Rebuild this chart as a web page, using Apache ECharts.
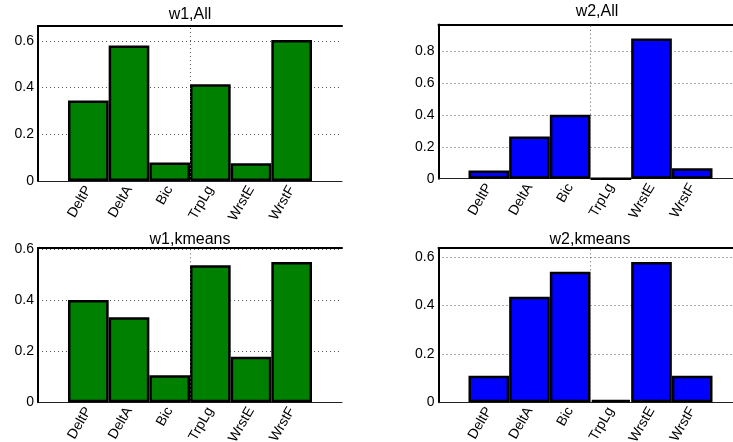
<!DOCTYPE html>
<html>
<head>
<meta charset="utf-8">
<script src="https://cdn.jsdelivr.net/npm/echarts@6/dist/echarts.min.js"></script>
<style>
html,body{margin:0;padding:0;background:#fff;}
#chart{width:733px;height:442px;}
</style>
</head>
<body>
<div id="chart"></div>
<script>
// ---- data ----
const categories = ['DeltP', 'DeltA', 'Bic', 'TrpLg', 'WrstE', 'WrstF'];
const w1All    = [0.345, 0.580, 0.079, 0.415, 0.076, 0.604];
const w2All    = [0.052, 0.265, 0.401, 0.000, 0.878, 0.066];
const w1Kmeans = [0.400, 0.332, 0.106, 0.536, 0.178, 0.548];
const w2Kmeans = [0.110, 0.436, 0.540, 0.010, 0.580, 0.110];
const titles   = ['w1,All', 'w2,All', 'w1,kmeans', 'w2,kmeans'];
const yMaxes   = [0.664, 0.966, 0.603, 0.638];
const yTickLabelsSmall = ['0', '0.2', '0.4', '0.6'];
const yTickLabelsLarge = ['0', '0.2', '0.4', '0.6', '0.8'];
const yStep = 0.2;

const GREEN = '#008000';
const BLUE = '#0000ff';
const FONT = 'Liberation Sans';

const panels = [
  { title: titles[0], data: w1All,    color: GREEN, left: 38,    top: 26,   bottom: 181,   yMax: yMaxes[0], labels: yTickLabelsSmall, tx: 190, ty: 6.5 },
  { title: titles[1], data: w2All,    color: BLUE,  left: 438.5, top: 24.5, bottom: 178.7, yMax: yMaxes[1], labels: yTickLabelsLarge, tx: 597, ty: 3.5 },
  { title: titles[2], data: w1Kmeans, color: GREEN, left: 38,    top: 248,  bottom: 402.3, yMax: yMaxes[2], labels: yTickLabelsSmall, tx: 190, ty: 231.5 },
  { title: titles[3], data: w2Kmeans, color: BLUE,  left: 438.5, top: 248,  bottom: 402.3, yMax: yMaxes[3], labels: yTickLabelsSmall, tx: 590, ty: 231.5 }
];

const OUTER_W = 304;
const INNER_OFF = 30;
const INNER_W = 244;

const grid = [], xAxis = [], yAxis = [], series = [], title = [];

panels.forEach((p, i) => {
  const h = p.bottom - p.top;
  const go = grid.length;
  grid.push({ left: p.left, top: p.top, width: OUTER_W, height: h, containLabel: false, outerBoundsMode: 'none' });
  const gi = grid.length;
  grid.push({ left: p.left + INNER_OFF, top: p.top, width: INNER_W, height: h, containLabel: false, outerBoundsMode: 'none' });

  title.push({
    text: p.title, left: p.tx, top: p.ty, textAlign: 'center', padding: 0,
    textStyle: { fontSize: 16, fontWeight: 'normal', color: '#000', fontFamily: FONT }
  });

  const xb = xAxis.length;
  xAxis.push({
    gridIndex: go, type: 'value', min: 0, max: 2, position: 'bottom',
    axisLine: { show: true, onZero: false, lineStyle: { color: '#222', width: 1 } },
    axisTick: { show: false }, axisLabel: { show: false }, splitLine: { show: false }
  });
  xAxis.push({
    gridIndex: go, type: 'value', min: 0, max: 2, position: 'top',
    axisLine: { show: true, onZero: false, lineStyle: { color: '#000', width: 2 } },
    axisTick: { show: false }, axisLabel: { show: false }, splitLine: { show: false }
  });
  const xi = xAxis.length;
  xAxis.push({
    gridIndex: gi, type: 'category', data: categories,
    axisLine: { show: false }, axisTick: { show: false }, splitLine: { show: false },
    axisLabel: { interval: 0, rotate: 60, margin: 6, fontSize: 14, color: '#000', fontFamily: FONT }
  });

  const yo = yAxis.length;
  yAxis.push({
    gridIndex: go, type: 'value', min: 0, max: p.yMax, interval: yStep,
    axisLine: { show: true, onZero: false, lineStyle: { color: '#000', width: 2 } },
    axisTick: { show: false },
    axisLabel: {
      margin: 4, fontSize: 14, color: '#000', fontFamily: FONT,
      formatter: (v) => {
        const k = Math.round(v / yStep);
        return Math.abs(v - k * yStep) < 1e-6 ? (p.labels[k] || '') : '';
      }
    },
    splitLine: { show: true, lineStyle: { color: '#555', width: 1, type: [1, 3] } }
  });
  const yi = yAxis.length;
  yAxis.push({ gridIndex: gi, type: 'value', min: 0, max: p.yMax, show: false });

  series.push({
    type: 'line', xAxisIndex: xb, yAxisIndex: yo, data: [], z: 1, silent: true,
    markLine: {
      symbol: 'none', silent: true, animation: false,
      label: { show: false },
      lineStyle: { color: '#555', width: 1, type: [1, 3] },
      data: [{ xAxis: 1 }]
    }
  });

  series.push({
    type: 'bar', xAxisIndex: xi, yAxisIndex: yi, data: p.data, z: 3,
    barCategoryGap: '0%',
    itemStyle: { color: p.color, borderColor: '#000', borderWidth: 2.5 }
  });
});

const chart = echarts.init(document.getElementById('chart'), null, { renderer: 'canvas' });
chart.setOption({ animation: false, backgroundColor: '#fff', title, grid, xAxis, yAxis, series });
</script>
</body>
</html>
